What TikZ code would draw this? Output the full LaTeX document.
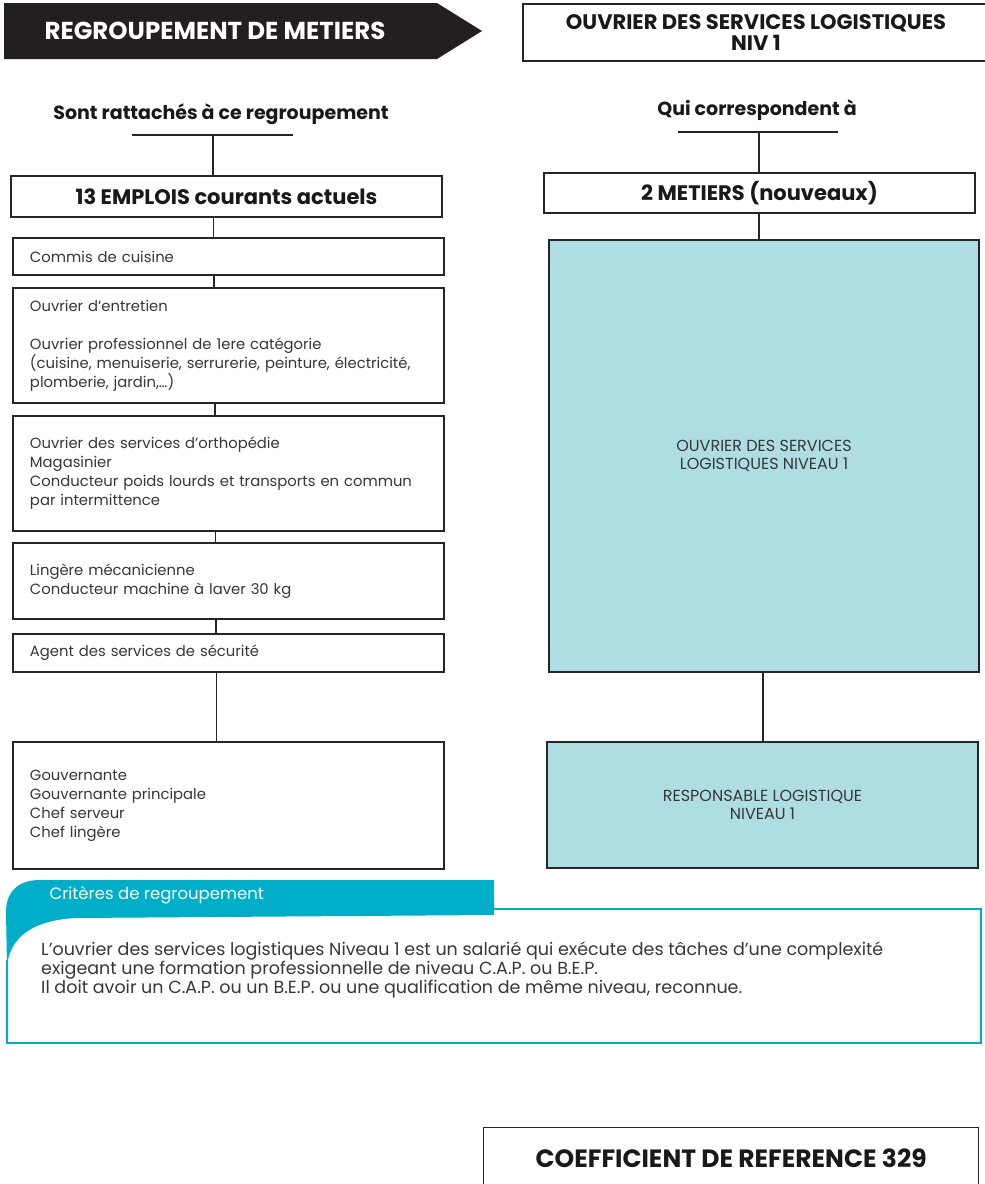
\documentclass[tikz,border=0pt]{standalone}
\usepackage{fontspec}
\setmainfont{Poppins}
\definecolor{boxblue}{RGB}{174,221,226}
\definecolor{critteal}{RGB}{0,174,199}
\definecolor{txtgray}{RGB}{55,55,55}
\definecolor{banner}{RGB}{35,31,32}
\begin{document}
\begin{tikzpicture}[x=1pt,y=-1pt,
  box/.style={draw=black!85, line width=1.1pt, fill=white, inner sep=0pt},
  listbox/.style={box, minimum width=431pt, inner xsep=17pt, text width=397pt, align=left,
    font=\fontsize{14.8}{19}\selectfont, text=txtgray},
  titlebox/.style={box, minimum width=431pt, font=\fontsize{21}{22}\selectfont\bfseries, text=black!90},
  bluebox/.style={draw=black!85, line width=1.1pt, fill=boxblue, inner sep=0pt, align=center,
    font=\fontsize{16}{18.5}\selectfont, text=txtgray},
  heading/.style={font=\fontsize{19}{21}\selectfont\bfseries, text=black!90},
  conn/.style={draw=black!85, line width=1.1pt}
]
\useasboundingbox (0,0) rectangle (985,1184);

% banner
\fill[banner] (4,3) -- (437,3) -- (482,31) -- (437,59) -- (4,59) -- cycle;
\node[font=\fontsize{24.5}{26}\selectfont\bfseries, text=white] (ban) at (215,31) {REGROUPEMENT DE METIERS};

% top right box
\node[draw=black!85, line width=2pt, minimum width=466pt, minimum height=57pt, inner sep=0pt,
  align=center, font=\fontsize{21}{21.5}\selectfont\bfseries, text=black!90, anchor=north west] (osl) at (522,3)
  {OUVRIER DES SERVICES LOGISTIQUES\\NIV 1};

% left column
\node[heading] (t1) at (221,114) {Sont rattachés à ce regroupement};
\draw[conn] (132,135) -- (293,135);
\coordinate (u1) at (213,135);
\node[titlebox, minimum height=41pt] (emp) at (226.5,196.5) {13 EMPLOIS courants actuels};

\node[listbox, minimum height=37pt] (b1) at (228.5,256.5) {Commis de cuisine};
\node[listbox, minimum height=115pt] (b2) at (228.5,345.5) {Ouvrier d’entretien\\[19pt]Ouvrier professionnel de 1ere catégorie\\(cuisine, menuiserie, serrurerie, peinture, électricité,\\plomberie, jardin,…)};
\node[listbox, minimum height=115pt] (b3) at (228.5,473.5) {Ouvrier des services d’orthopédie\\Magasinier\\Conducteur poids lourds et transports en commun\\par intermittence};
\node[listbox, minimum height=76pt] (b4) at (228.5,581) {Lingère mécanicienne\\Conducteur machine à laver 30 kg};
\node[listbox, minimum height=38pt] (b5) at (228.5,653) {Agent des services de sécurité};
\node[listbox, minimum height=127pt] (b6) at (228.5,805.5) {Gouvernante\\Gouvernante principale\\Chef serveur\\Chef lingère};

\draw[conn] (u1) -- (u1 |- emp.north);
\draw[conn] ([xshift=-13pt]emp.south) -- ([xshift=-13pt]emp.south |- b1.north);
\draw[conn] ([xshift=-14.5pt]b1.south) -- ([xshift=-14.5pt]b2.north);
\draw[conn] ([xshift=-13.5pt]b2.south) -- ([xshift=-13.5pt]b3.north);
\draw[conn] ([xshift=-13pt]b3.south) -- ([xshift=-13pt]b4.north);
\draw[conn] ([xshift=-12.5pt]b4.south) -- ([xshift=-12.5pt]b5.north);
\draw[conn] ([xshift=-12pt]b5.south) -- ([xshift=-12pt]b6.north);

% right column
\node[heading] (t2) at (757,110) {Qui correspondent à};
\draw[conn] (678,132) -- (838,132);
\coordinate (u2) at (759,132);
\coordinate (u3) at (763,700);
\node[titlebox, minimum height=40pt] (met) at (759.5,193) {2 METIERS (nouveaux)};
\node[bluebox, minimum width=430pt, minimum height=432pt] (osl1) at (764,456) {OUVRIER DES SERVICES\\LOGISTIQUES NIVEAU 1};
\node[bluebox, minimum width=431pt, minimum height=126pt] (resp) at (762.5,805) {RESPONSABLE LOGISTIQUE\\NIVEAU 1};

\draw[conn] (u2) -- (u2 |- met.north);
\draw[conn] (met.south -| u2) -- (osl1.north -| u2);
\draw[conn] (osl1.south -| u3) -- (resp.north -| u3);

% criteria block
\fill[critteal] (494,880) -- (494,915) -- (75,918) .. controls (28,921) and (10,940) .. (7,966)
  -- (6,912) .. controls (6,892) and (18,880) .. (40,880) -- cycle;
\draw[critteal, line width=1.2pt] (494,909) -- (981,909) -- (981,1043) -- (7,1043) -- (7,960);
\node[anchor=west, text=white, font=\fontsize{16.5}{18}\selectfont] (crit) at (46,895) {Critères de regroupement};
\node[anchor=north west, align=left, text=txtgray, inner sep=0pt, font=\fontsize{17.5}{19}\selectfont] (crittxt) at (41,942)
  {L’ouvrier des services logistiques Niveau 1 est un salarié qui exécute des tâches d’une complexité\\
   exigeant une formation professionnelle de niveau C.A.P. ou B.E.P.\\
   Il doit avoir un C.A.P. ou un B.E.P. ou une qualification de même niveau, reconnue.};

% coefficient
\node[draw=black!85, line width=1.3pt, minimum width=495pt, minimum height=62pt, inner sep=0pt,
  anchor=north west, font=\fontsize{25}{27}\selectfont\bfseries, text=black!90] (coef) at (483,1127)
  {COEFFICIENT DE REFERENCE 329};
\end{tikzpicture}
\end{document}
